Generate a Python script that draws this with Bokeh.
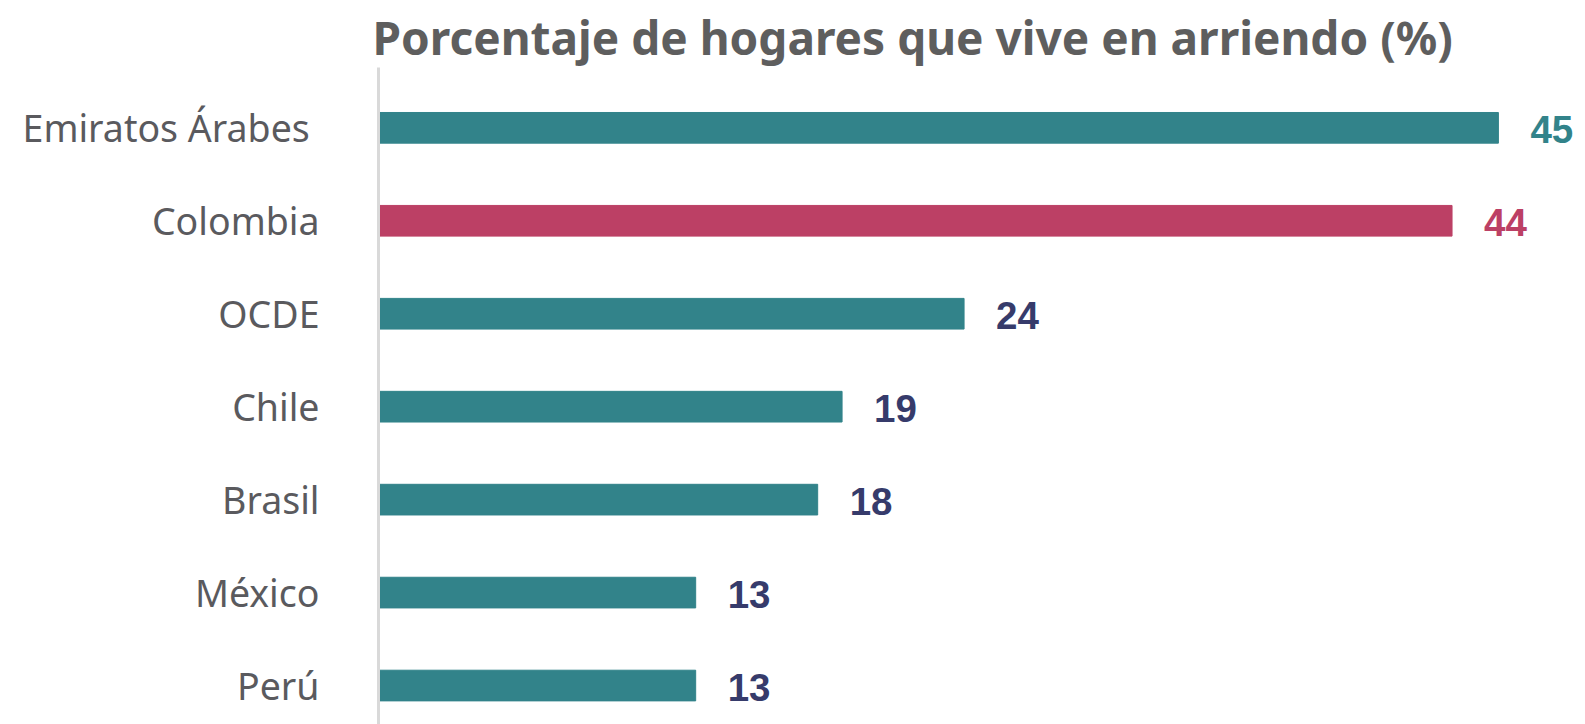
from bokeh.plotting import figure
from bokeh.models import ColumnDataSource, Range1d, FixedTicker
from bokeh.core.properties import value
from bokeh.embed import file_html
from bokeh.resources import INLINE

# ---- data ----
categories = ["Emiratos  Árabes", "Colombia", "OCDE", "Chile", "Brasil", "México", "Perú"]
values = [45.9, 44.0, 24.0, 19.0, 18.0, 13.0, 13.0]
value_labels = ["45", "44", "24", "19", "18", "13", "13"]

# ---- styles ----
TEAL = "#32838A"
CRIMSON = "#BC4065"
NAVY = "#363B6B"
bar_colors = [TEAL, CRIMSON, TEAL, TEAL, TEAL, TEAL, TEAL]
label_colors = [TEAL, CRIMSON, NAVY, NAVY, NAVY, NAVY, NAVY]

n = len(categories)
ypos = [n - 1 - i for i in range(n)]

src = ColumnDataSource(dict(
    cat=categories, val=values, lab=value_labels, y=ypos,
    bar_color=bar_colors, label_color=label_colors,
))

p = figure(
    width=1585, height=724,
    x_range=Range1d(0, 49.47), y_range=Range1d(-0.419, 6.649),
    output_backend="svg", toolbar_location=None,
    min_border_left=378, min_border_right=0, min_border_top=67, min_border_bottom=0,
    title="Porcentaje de hogares que vive en arriendo (%)",
)
p.outline_line_color = None
p.background_fill_color = "white"
p.border_fill_color = "white"
p.xgrid.visible = False
p.ygrid.visible = False
p.xaxis.visible = False

p.title.text_font = "Noto Sans"
p.title.text_font_size = "46px"
p.title.text_font_style = "bold"
p.title.text_color = "#5E5E5E"
p.title.align = "left"
p.title.offset = -6
p.title.standoff = 0

yax = p.yaxis[0]
yax.ticker = FixedTicker(ticks=ypos)
yax.major_label_overrides = {y: c for y, c in zip(ypos, categories)}
yax.major_label_text_font = "Noto Sans"
yax.major_label_text_font_size = "37.5px"
yax.major_label_text_color = "#5A5A5E"
yax.major_label_standoff = 53
yax.major_tick_line_color = None
yax.minor_tick_line_color = None
yax.axis_line_color = "#D9D9D9"
yax.axis_line_width = 3

p.hbar(y="y", right="val", left=0, height=0.33, color="bar_color", source=src)

p.text(x="val", y="y", text="lab", source=src, x_offset=32, y_offset=2,
       text_baseline="middle", text_align="left",
       text_font=value("Liberation Sans"), text_font_style="bold",
       text_font_size="38.5px", text_color="label_color")

open("out.html", "w").write(file_html(p, INLINE))
